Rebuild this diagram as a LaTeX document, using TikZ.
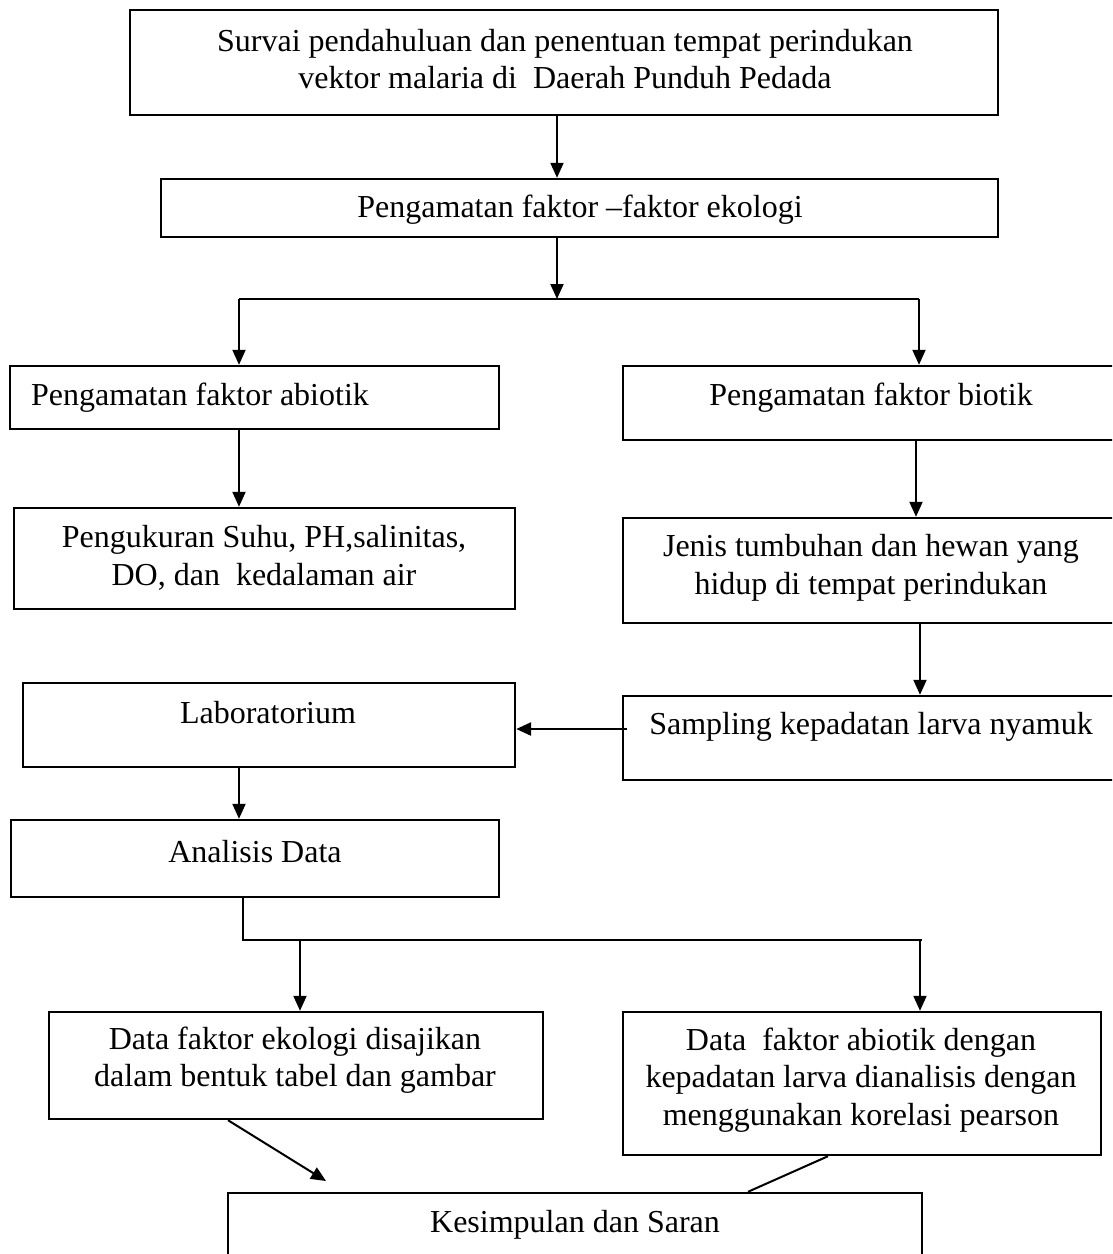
\documentclass[tikz,border=0pt]{standalone}
\usepackage{fontspec}
\setmainfont{Liberation Serif}
\usetikzlibrary{arrows.meta,calc}
\begin{document}
\begin{tikzpicture}[x=1pt,y=-1pt,
  box/.style={draw,line width=2.4pt,inner sep=0pt,rectangle},
  txt/.style={inner sep=0pt,align=center,font=\fontsize{32}{37.5}\selectfont},
  link/.style={line width=2pt},
  arr/.style={line width=2pt,-{Triangle[length=15pt,width=13pt]}}]
\useasboundingbox (0,0) rectangle (1112,1254);
\clip (0,0) rectangle (1112,1254);
% boxes
\node[box,minimum width=868pt,minimum height=105pt] (b1) at (564,62.5) {};
\node[box,minimum width=837pt,minimum height=58pt] (b2) at (579.5,208) {};
\node[box,minimum width=489pt,minimum height=63pt] (b3) at (254.5,397.5) {};
\node[box,minimum width=497pt,minimum height=74pt] (b4) at (871.5,403) {};
\node[box,minimum width=501pt,minimum height=101pt] (b5) at (264.5,558.5) {};
\node[box,minimum width=497pt,minimum height=105pt] (b6) at (871.5,570.5) {};
\node[box,minimum width=497pt,minimum height=84pt] (b7) at (871.5,738) {};
\node[box,minimum width=492pt,minimum height=84pt] (b8) at (269,725) {};
\node[box,minimum width=488pt,minimum height=77pt] (b9) at (255,858.5) {};
\node[box,minimum width=494pt,minimum height=107pt] (b10) at (296,1065.5) {};
\node[box,minimum width=478pt,minimum height=143pt] (b11) at (862,1083.5) {};
\node[box,minimum width=694pt,minimum height=77pt] (b12) at (575,1231.5) {};
% texts
\node[txt] (t1) at (565,59) {Survai pendahuluan dan penentuan tempat perindukan\\vektor malaria di\ \ Daerah Punduh Pedada};
\node[txt] (t2) at (580,210) {Pengamatan faktor –faktor ekologi};
\node[txt,anchor=west] (t3) at (31,398) {Pengamatan faktor abiotik};
\node[txt] (t4) at (871,398) {Pengamatan faktor biotik};
\node[txt] (t5) at (264,558) {Pengukuran Suhu, PH,salinitas,\\DO, dan\ \ kedalaman air};
\node[txt] (t6) at (871,568) {Jenis tumbuhan dan hewan yang\\hidup di tempat perindukan};
\node[txt] (t7) at (871,727) {Sampling kepadatan larva nyamuk};
\node[txt] (t8) at (268,713) {Laboratorium};
\node[txt] (t9) at (255,852) {Analisis Data};
\node[txt] (t10) at (295,1060) {Data faktor ekologi disajikan\\dalam bentuk tabel dan gambar};
\node[txt] (t11) at (861,1080) {Data\ \ faktor abiotik dengan\\kepadatan larva dianalisis dengan\\menggunakan korelasi pearson};
\node[txt] (t12) at (575,1225) {Kesimpulan dan Saran};
% junction coordinates
\coordinate (s1) at (557,299);
\coordinate (s1l) at (239,299);
\coordinate (s1r) at (919,299);
\coordinate (j1) at (243,940);
\coordinate (j2) at (922,940);
\coordinate (j3) at (300,940);
\coordinate (j4) at (920,940);
\coordinate (e1) at (326,1181);
% connectors
\draw[arr] ([xshift=-7pt]b1.south) -- ([xshift=-7pt]b1.south |- b2.north);
\draw[arr] ([xshift=-22.5pt]b2.south) -- (s1);
\draw[link] (s1l) -- (s1r);
\draw[arr] (s1l) -- (s1l |- b3.north);
\draw[arr] (s1r) -- (s1r |- b4.north);
\draw[arr] (s1l |- b3.south) -- (s1l |- b5.north);
\draw[arr] ([xshift=44.5pt]b4.south) -- ([xshift=44.5pt]b4.south |- b6.north);
\draw[arr] ([xshift=48.5pt]b6.south) -- ([xshift=48.5pt]b6.south |- b7.north);
\draw[arr,line width=2.6pt] ([xshift=5pt,yshift=9pt]b7.west) -- ([yshift=9pt]b7.west -| b8.east);
\draw[arr] ([xshift=-30pt]b8.south) -- ([xshift=-30pt]b8.south |- b9.north);
\draw[link] ([xshift=-12pt]b9.south) -- (j1) -- (j2);
\draw[arr] (j3) -- (j3 |- b10.north);
\draw[arr] (j4) -- (j4 |- b11.north);
\draw[arr] ([xshift=-68pt]b10.south) -- (e1);
\draw[link] ([xshift=-34pt]b11.south) -- ([xshift=173pt]b12.north);
\end{tikzpicture}
\end{document}
